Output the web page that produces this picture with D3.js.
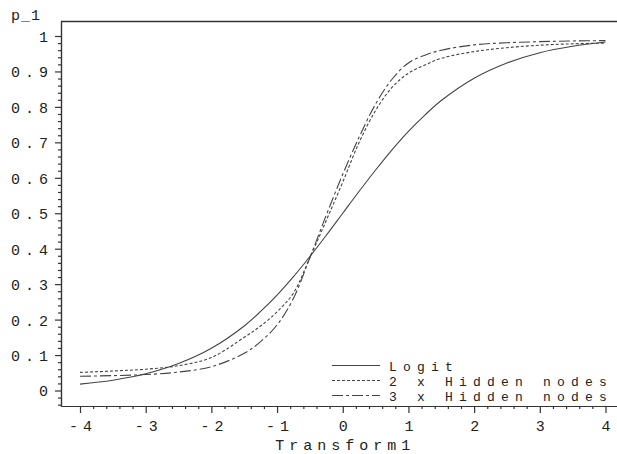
<!DOCTYPE html>
<html>
<head>
<meta charset="utf-8">
<script src="https://cdn.jsdelivr.net/npm/d3@7"></script>
<style>
  body { margin: 0; background: #fff; }
  text { font-family: "Liberation Mono", "DejaVu Sans Mono", monospace; fill: #222; }
</style>
</head>
<body>
<svg id="chart" width="617" height="454"></svg>
<script>
// Predicted probability p_1 against Transform1 for three models
const transform1 = [-4, -3.5, -3, -2.5, -2, -1.5, -1.25, -1, -0.75, -0.5, -0.25, 0, 0.25, 0.5, 0.75, 1, 1.25, 1.5, 2, 2.5, 3, 3.5, 4];
const logitP   = [0.018, 0.029, 0.047, 0.076, 0.119, 0.182, 0.223, 0.269, 0.321, 0.378, 0.438, 0.500, 0.562, 0.622, 0.679, 0.731, 0.777, 0.818, 0.881, 0.924, 0.953, 0.971, 0.983];
const hidden2P = [0.051, 0.055, 0.060, 0.070, 0.093, 0.150, 0.182, 0.222, 0.275, 0.375, 0.480, 0.588, 0.700, 0.790, 0.855, 0.895, 0.918, 0.937, 0.956, 0.967, 0.974, 0.978, 0.980];
const hidden3P = [0.040, 0.042, 0.045, 0.052, 0.067, 0.105, 0.138, 0.185, 0.260, 0.375, 0.495, 0.610, 0.715, 0.808, 0.878, 0.924, 0.946, 0.960, 0.975, 0.981, 0.984, 0.986, 0.987];

const seriesNames = ["Logit", "2 x Hidden nodes", "3 x Hidden nodes"];
const seriesDash = ["none", "3,2", "11,3,3,3"];

const xTickValues = [-4, -3, -2, -1, 0, 1, 2, 3, 4];
const yTickValues = [0, 0.1, 0.2, 0.3, 0.4, 0.5, 0.6, 0.7, 0.8, 0.9, 1];
const yLabel = "p_1";
const xLabel = "Transform1";

const svg = d3.select("#chart");
const frame = { left: 61, right: 617, top: 21, bottom: 406 };

// value -> pixel: -4..4 spans 80..605.5, 0..1 spans 390.5..36
const x0 = d3.scaleLinear().domain([-4, 4]).range([80, 605.5]);
const y0 = d3.scaleLinear().domain([0, 1]).range([390.5, 36]);
const x = d3.scaleLinear().domain([x0.invert(frame.left), x0.invert(frame.right)]).range([frame.left, frame.right]);
const y = d3.scaleLinear().domain([y0.invert(frame.bottom), y0.invert(frame.top)]).range([frame.bottom, frame.top]);

const spacing = 5;
const fontSize = 15;

// top border
svg.append("line")
  .attr("x1", frame.left).attr("x2", frame.right)
  .attr("y1", frame.top + 0.5).attr("y2", frame.top + 0.5)
  .attr("stroke", "#333").attr("stroke-width", 1.3);

// minor ticks
const xMinor = d3.range(-40, 41, 2).map(d => d / 10).filter(d => xTickValues.indexOf(d) < 0);
const yMinor = d3.range(-4, 101, 2).map(d => d / 100).filter(d => yTickValues.every(t => Math.abs(t - d) > 1e-9));

svg.append("g")
  .attr("transform", `translate(0,${frame.bottom})`)
  .call(d3.axisBottom(x).tickValues(xMinor).tickSize(3).tickSizeOuter(0).tickFormat(""))
  .call(g => g.selectAll("line,path").attr("stroke", "#333").attr("stroke-width", 1.2));

svg.append("g")
  .attr("transform", `translate(${frame.left},0)`)
  .call(d3.axisLeft(y).tickValues(yMinor).tickSize(3).tickSizeOuter(0).tickFormat(""))
  .call(g => g.selectAll("line,path").attr("stroke", "#333").attr("stroke-width", 1.2));

// major ticks with labels
svg.append("g")
  .attr("transform", `translate(0,${frame.bottom})`)
  .call(d3.axisBottom(x).tickValues(xTickValues).tickSize(7).tickSizeOuter(0).tickFormat(d => String(d)))
  .call(g => g.selectAll("line,path").attr("stroke", "#333").attr("stroke-width", 1.2))
  .call(g => g.selectAll("text")
      .attr("font-size", fontSize).attr("letter-spacing", spacing)
      .attr("dx", spacing / 2).attr("dy", null).attr("y", 25));

svg.append("g")
  .attr("transform", `translate(${frame.left},0)`)
  .call(d3.axisLeft(y).tickValues(yTickValues).tickSize(6).tickSizeOuter(0).tickFormat(d => String(+d.toFixed(1))))
  .call(g => g.selectAll("line,path").attr("stroke", "#333").attr("stroke-width", 1.2))
  .call(g => g.selectAll("text")
      .attr("font-size", fontSize).attr("letter-spacing", spacing)
      .attr("x", -13 + spacing).attr("dy", "0.36em"));

// axis titles
svg.append("text")
  .attr("x", 11).attr("y", 20)
  .attr("font-size", fontSize).attr("letter-spacing", 1)
  .text(yLabel);

svg.append("text")
  .attr("x", (x0(-4) + x0(4)) / 2 + spacing / 2).attr("y", 450)
  .attr("text-anchor", "middle")
  .attr("font-size", fontSize).attr("letter-spacing", spacing)
  .text(xLabel);

// curves
const series = [logitP, hidden2P, hidden3P];
const line = d3.line()
  .x((d, i) => x(transform1[i]))
  .y(d => y(d))
  .curve(d3.curveCatmullRom.alpha(0.5));

svg.append("g").selectAll("path")
  .data(series)
  .join("path")
  .attr("d", line)
  .attr("fill", "none")
  .attr("stroke", "#444")
  .attr("stroke-width", 1.1)
  .attr("stroke-dasharray", (d, i) => seriesDash[i]);

// legend: tight rows, so a slightly smaller face with wider tracking keeps the 14px pitch
const legendFont = 13;
const legendSpacing = 6.2;
const legend = svg.append("g").selectAll("g")
  .data(seriesNames)
  .join("g")
  .attr("transform", (d, i) => `translate(0,${371 + i * 15})`);

legend.append("line")
  .attr("x1", 332).attr("x2", 380)
  .attr("y1", -5.5).attr("y2", -5.5)
  .attr("stroke", "#444").attr("stroke-width", 1.1)
  .attr("stroke-dasharray", (d, i) => seriesDash[i]);

legend.append("text")
  .attr("x", 389).attr("y", 0)
  .attr("font-size", legendFont).attr("letter-spacing", legendSpacing)
  .text(d => d);
</script>
</body>
</html>
